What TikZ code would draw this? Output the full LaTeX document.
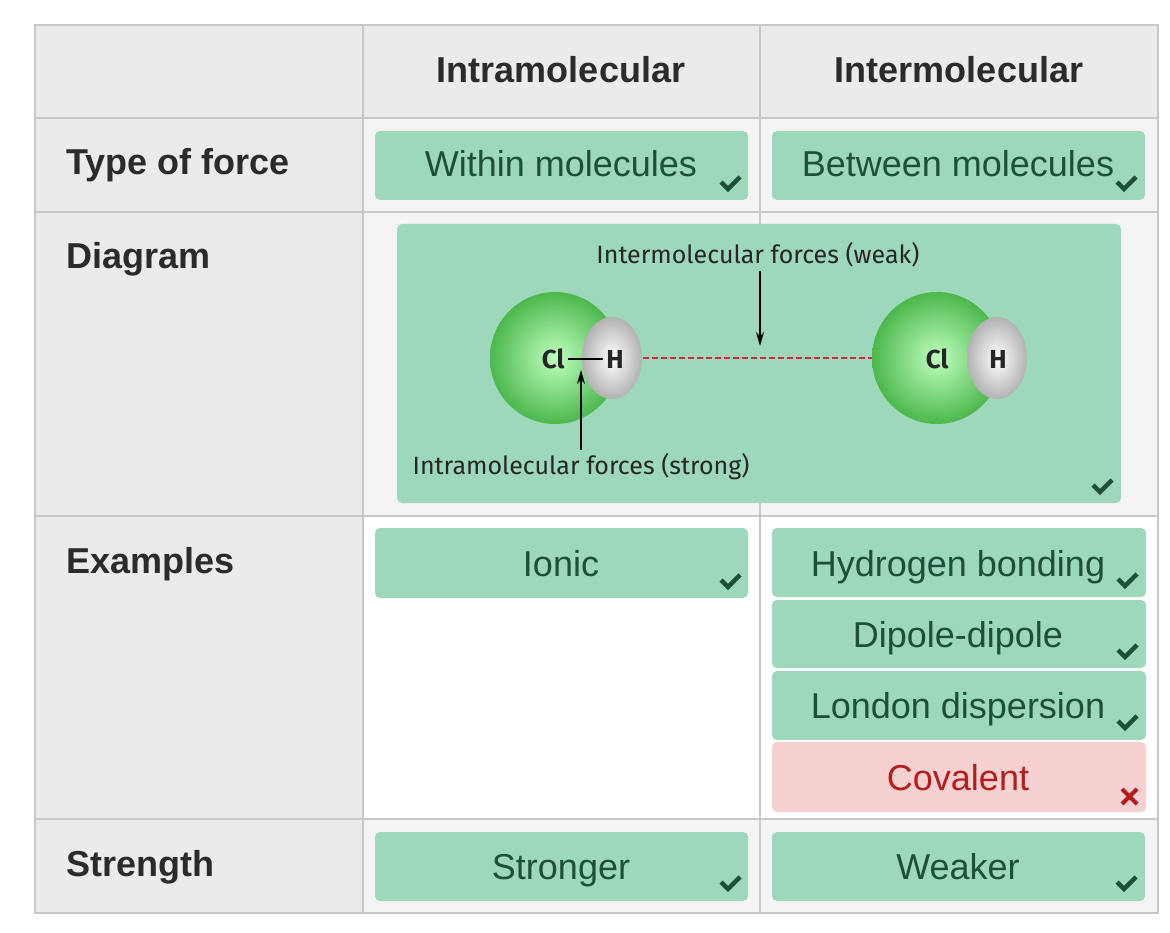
\documentclass[tikz,border=0pt]{standalone}
\usepackage{fontspec}
\setmainfont{Liberation Sans}
\newfontfamily\fira{Fira Sans}
\usetikzlibrary{arrows.meta}
\definecolor{hdr}{HTML}{EBEBEB}
\definecolor{cellg}{HTML}{F4F4F4}
\definecolor{gridc}{HTML}{C8C8C8}
\definecolor{okbg}{HTML}{9DD8BB}
\definecolor{oktx}{HTML}{1F4F38}
\definecolor{badbg}{HTML}{F7D1D1}
\definecolor{badtx}{HTML}{B51C1C}
\definecolor{txt}{HTML}{2B2B2B}
\definecolor{dashred}{HTML}{E0203F}
\tikzset{
  ansbox/.style={fill=okbg,rounded corners=5pt,draw=none},
  badbox/.style={fill=badbg,rounded corners=5pt,draw=none},
  anstext/.style={font=\fontsize{36}{40}\selectfont,text=oktx,anchor=base},
  hdrtext/.style={font=\fontsize{36}{40}\selectfont\bfseries,text=txt,anchor=base},
  chk/.style={draw=oktx,line width=4.5pt},
  dlab/.style={font=\fira\fontsize{25}{28}\selectfont,text=black!85},
  atom/.style={font=\fira\bfseries\fontsize{26}{28}\selectfont,text=black!85},
}
\newcommand{\tick}[2]{\draw[chk] (#1-10,#2-2) -- (#1-3,#2+5) -- (#1+9,#2-7);}
\begin{document}
\begin{tikzpicture}[x=1pt,y=-1pt]
\useasboundingbox (0,0) rectangle (1170,933);
\fill[white] (0,0) rectangle (1170,933);
% cells
\fill[hdr] (35,25) rectangle (1158,118);
\fill[hdr] (35,118) rectangle (363,913);
\fill[cellg] (363,118) rectangle (1158,516);
\fill[white] (363,516) rectangle (1158,819);
\fill[cellg] (363,819) rectangle (1158,913);
% grid
\draw[gridc,line width=1.5pt] (35,25) rectangle (1158,913);
\foreach \y in {118,212,516,819} \draw[gridc,line width=1.5pt] (35,\y) -- (1158,\y);
\foreach \x in {363,760} \draw[gridc,line width=1.5pt] (\x,25) -- (\x,913);
% headers
\node[hdrtext] (hintra) at (561,83) {Intramolecular};
\node[hdrtext] (hinter) at (959,83) {Intermolecular};
\node[hdrtext,anchor=base west] (rtype) at (63,175) {Type of force};
\node[hdrtext,anchor=base west] (rdiag) at (63,269) {Diagram};
\node[hdrtext,anchor=base west] (rex) at (63,573) {Examples};
\node[hdrtext,anchor=base west] (rstr) at (63,876) {Strength};
% answer boxes
\fill[ansbox] (375,131) rectangle (748,200); \node[anstext] (a1) at (561,177) {Within molecules}; \tick{731}{184}
\fill[ansbox] (772,131) rectangle (1145,200); \node[anstext] (a2) at (958,177) {Between molecules}; \tick{1127}{184}
\fill[ansbox] (375,528) rectangle (748,598); \node[anstext] (a3) at (561,576) {Ionic}; \tick{731}{582}
\fill[ansbox] (772,528) rectangle (1146,597); \node[anstext] (a4) at (958,576) {Hydrogen bonding}; \tick{1128}{581}
\fill[ansbox] (772,600) rectangle (1146,668); \node[anstext] (a5) at (958,647) {Dipole-dipole}; \tick{1128}{652}
\fill[ansbox] (772,671) rectangle (1146,740); \node[anstext] (a6) at (958,718) {London dispersion}; \tick{1128}{723}
\fill[badbox] (772,742) rectangle (1146,812); \node[anstext,text=badtx] (a7) at (958,790) {Covalent};
\draw[badtx,line width=4pt] (1122,789) -- (1137,804) (1137,789) -- (1122,804);
\fill[ansbox] (375,832) rectangle (748,901); \node[anstext] (a8) at (561,879) {Stronger}; \tick{731}{884}
\fill[ansbox] (772,832) rectangle (1145,901); \node[anstext] (a9) at (958,879) {Weaker}; \tick{1127}{884}
% diagram
\fill[ansbox] (397,224) rectangle (1121,503); \tick{1103}{487}
\shade[inner color=green!25!white, outer color=green!60!black!70!white] (555,358) ellipse (65 and 66);
\shade[inner color=white, outer color=gray!60] (612,358) ellipse (30 and 41);
\shade[inner color=green!25!white, outer color=green!60!black!70!white] (937,358) ellipse (65 and 66);
\shade[inner color=white, outer color=gray!60] (997,358) ellipse (30 and 41);
\node[atom] (cl1) at (553,359) {Cl};
\node[atom] (h1) at (615,359) {H};
\node[atom] (cl2) at (937,359) {Cl};
\node[atom] (h2) at (998,359) {H};
\draw[line width=1.8pt] (cl1.east) -- (h1.west);
\coordinate (ds) at (643,358); \coordinate (de) at (872,358);
\draw[dashred,dash pattern=on 6pt off 3pt,line width=2.6pt] (ds) -- (de);
\node[dlab] (lweak) at (758,255) {Intermolecular forces (weak)};
\node[dlab] (lstrong) at (581,467) {Intramolecular forces (strong)};
\coordinate (wk) at (760,346); \coordinate (st) at (581,370);
\draw[-{Stealth[length=14pt,width=8pt]},line width=1.6pt] (lweak.south -| wk) -- (wk);
\draw[-{Stealth[length=14pt,width=8pt]},line width=1.6pt] (lstrong.north -| st) -- (st);
\end{tikzpicture}
\end{document}
